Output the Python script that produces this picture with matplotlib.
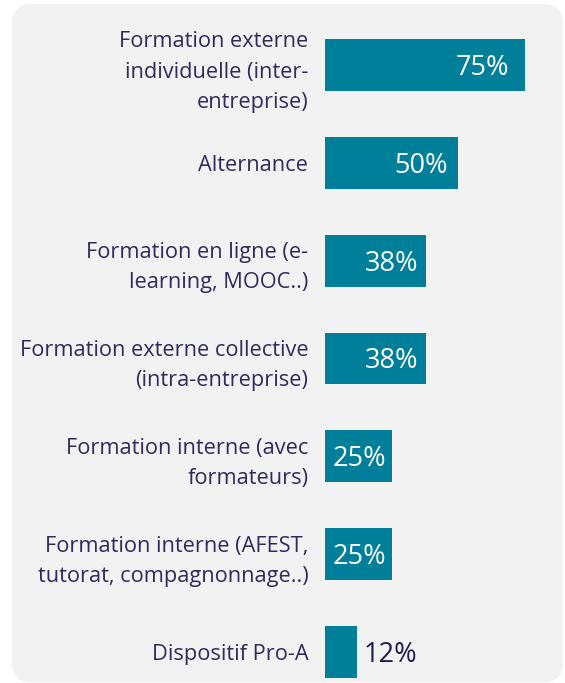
import matplotlib
matplotlib.use("Agg")
import matplotlib.pyplot as plt
from matplotlib.patches import FancyBboxPatch

categories = [
    "Formation externe\nindividuelle (inter-\nentreprise)",
    "Alternance",
    "Formation en ligne (e-\nlearning, MOOC..)",
    "Formation externe collective\n(intra-entreprise)",
    "Formation interne (avec\nformateurs)",
    "Formation interne (AFEST,\ntutorat, compagnonnage..)",
    "Dispositif Pro-A",
]
values = [75, 50, 38, 38, 25, 25, 12]
value_labels = ["75%", "50%", "38%", "38%", "25%", "25%", "12%"]

BAR = "#007f9a"
TEXT = "#2e2b5e"
PANEL = "#f2f2f2"

plt.rcParams["font.family"] = ["Open Sans", "DejaVu Sans"]

W, H = 565, 683
fig = plt.figure(figsize=(W / 100, H / 100), dpi=100)
fig.patch.set_facecolor("white")

# rounded grey card behind the chart, sized in inches
card = FancyBboxPatch((0.12, 0.005), 5.51, 6.785,
                      boxstyle="round,pad=0,rounding_size=0.2",
                      transform=fig.dpi_scale_trans, facecolor=PANEL,
                      edgecolor="none", zorder=-5)
fig.patches.append(card)

ax = fig.add_axes([325 / W, 0, 220 / W, 667 / H])
ax.set_zorder(1)
ax.set_facecolor("none")
ypos = list(range(len(values)))
ax.barh(ypos, values, height=0.53, color=BAR, zorder=2)
ax.set_xlim(0, 82.5)
ax.set_ylim(6.317, -0.5)

ax.set_yticks(ypos)
ax.set_yticklabels(categories, fontsize=15.7, color=TEXT, linespacing=1.58)
ax.tick_params(axis="y", length=0, pad=12)
ax.set_xticks([])
for s in ax.spines.values():
    s.set_visible(False)

for y, v, lab in zip(ypos, values, value_labels):
    if v >= 20:
        ax.text(v - 0.08 * v, y + 0.03, lab, ha="right", va="center",
                color="white", fontsize=19.5)
    else:
        ax.text(v + 2.5, y + 0.03, lab, ha="left", va="center",
                color="#1f1c50", fontsize=19.5)

fig.savefig("out.png", dpi=100, facecolor="white")
